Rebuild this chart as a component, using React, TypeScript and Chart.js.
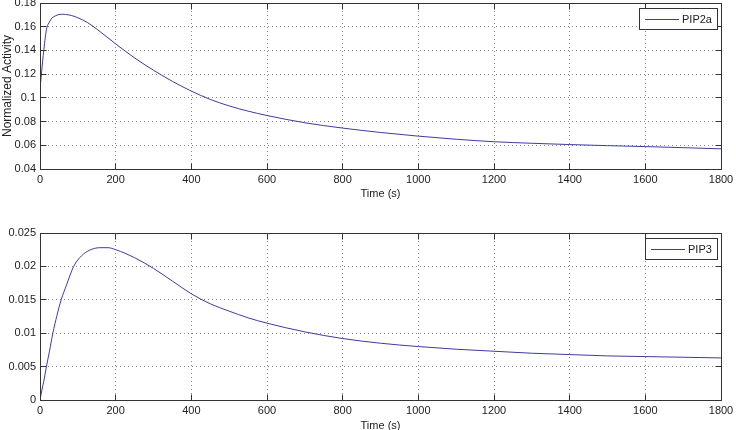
import React, { useEffect, useRef } from "react";
import { Chart, registerables } from "chart.js";

Chart.register(...registerables);

// ---- data ----
const timeTop = [0, 2, 4, 7, 10, 14, 18, 25, 32, 40, 50, 60, 75, 90, 100, 125, 150, 175, 200, 250, 300, 350, 400, 450, 500, 550, 600, 700, 800, 900, 1000, 1100, 1200, 1300, 1400, 1500, 1600, 1700, 1800];
const pip2a = [0.108, 0.114, 0.121, 0.131, 0.140, 0.151, 0.159, 0.164, 0.1675, 0.169, 0.1703, 0.1705, 0.1700, 0.1688, 0.1676, 0.1636, 0.1580, 0.1518, 0.1455, 0.1337, 0.1233, 0.1139, 0.1057, 0.0987, 0.0932, 0.0888, 0.0851, 0.0790, 0.0745, 0.0708, 0.0677, 0.0651, 0.0630, 0.0617, 0.0606, 0.0597, 0.0589, 0.0580, 0.0570];

const timeBottom = [0, 5, 10, 17, 25, 34, 45, 56, 70, 89, 110, 130, 158, 180, 200, 250, 300, 350, 400, 450, 500, 550, 600, 700, 800, 900, 1000, 1100, 1200, 1300, 1400, 1500, 1600, 1700, 1800];
const pip3 = [0, 0.0015, 0.0028, 0.005, 0.0073, 0.010, 0.0127, 0.015, 0.0172, 0.020, 0.0216, 0.0224, 0.0228, 0.0228, 0.0225, 0.0213, 0.0197, 0.0178, 0.0159, 0.0144, 0.0133, 0.0123, 0.0115, 0.0102, 0.0092, 0.0085, 0.0080, 0.0076, 0.0073, 0.0070, 0.0068, 0.0066, 0.0065, 0.0064, 0.0063];

const xTicks = [0, 200, 400, 600, 800, 1000, 1200, 1400, 1600, 1800];
const yTicksTop = [0.04, 0.06, 0.08, 0.1, 0.12, 0.14, 0.16, 0.18];
const yTicksBottom = [0, 0.005, 0.01, 0.015, 0.02, 0.025];

const xTitle = "Time (s)";
const yTitleTop = "Normalized Activity";
const labelTop = "PIP2a";
const labelBottom = "PIP3";

// ---- styles ----
const FONT = '"Liberation Sans", Arial, Helvetica, sans-serif';
const LINE = "#3c3c9c";
const FRAME = "#333333";
const TEXT = "#222222";
const GRID = "#8a8a8a";

const al = (p: number) => Math.round(p - 0.5) + 0.5;

const framePlugin = {
  id: "matlabFrame",
  afterDraw(chart: any) {
    const { ctx, chartArea } = chart;
    const { left, top, right, bottom } = chartArea;
    const xs = chart.scales.x;
    const ys = chart.scales.y;
    const L = al(left), R = al(right), T = al(top), B = al(bottom);
    ctx.save();
    ctx.strokeStyle = FRAME;
    ctx.lineWidth = 1;
    ctx.setLineDash([]);
    const tl = 6;
    ctx.beginPath();
    xs.ticks.forEach((t: any) => {
      const px = al(xs.getPixelForValue(t.value));
      ctx.moveTo(px, B);
      ctx.lineTo(px, B - tl);
      ctx.moveTo(px, T);
      ctx.lineTo(px, T + tl);
    });
    ys.ticks.forEach((t: any) => {
      const py = al(ys.getPixelForValue(t.value));
      ctx.moveTo(L, py);
      ctx.lineTo(L + tl, py);
      ctx.moveTo(R, py);
      ctx.lineTo(R - tl, py);
    });
    ctx.stroke();
    ctx.strokeRect(L, T, R - L, B - T);

    // legend box
    const label = chart.data.datasets[0].label;
    ctx.font = "11px " + FONT;
    const tw = ctx.measureText(label).width;
    const bw = Math.round(tw + 48);
    const bh = 21;
    const bx = Math.round(right - 4 - bw);
    const by = Math.round(top + 5);
    ctx.fillStyle = "#ffffff";
    ctx.fillRect(bx, by, bw, bh);
    ctx.strokeStyle = FRAME;
    ctx.strokeRect(bx + 0.5, by + 0.5, bw, bh);
    ctx.strokeStyle = chart.data.datasets[0].borderColor;
    ctx.beginPath();
    ctx.moveTo(bx + 6, by + 11.5);
    ctx.lineTo(bx + 40, by + 11.5);
    ctx.stroke();
    ctx.fillStyle = TEXT;
    ctx.textBaseline = "middle";
    ctx.textAlign = "left";
    ctx.fillText(label, bx + 43, by + 11.5);
    ctx.restore();
  },
};

function makeConfig(
  xs: number[],
  ys: number[],
  label: string,
  yTicks: number[],
  yTitle: string | null,
  padTop: number,
  xAxisHeight: number,
  xTitlePadBottom: number
): any {
  return {
    type: "line",
    data: {
      datasets: [
        {
          label,
          data: xs.map((x, i) => ({ x, y: ys[i] })),
          borderColor: LINE,
          borderWidth: 1,
          pointRadius: 0,
          fill: false,
          cubicInterpolationMode: "monotone",
        },
      ],
    },
    options: {
      animation: false,
      responsive: false,
      devicePixelRatio: 1,
      layout: { padding: { left: 0, right: 15, top: padTop, bottom: 0 } },
      plugins: { legend: { display: false }, tooltip: { enabled: false } },
      scales: {
        x: {
          type: "linear",
          min: xTicks[0],
          max: xTicks[xTicks.length - 1],
          afterBuildTicks: (s: any) => {
            s.ticks = xTicks.map((v) => ({ value: v }));
          },
          afterFit: (s: any) => {
            s.height = xAxisHeight;
            s.paddingLeft = 0;
            s.paddingRight = 0;
          },
          ticks: {
            autoSkip: false,
            maxRotation: 0,
            padding: 4,
            color: TEXT,
            font: { family: FONT, size: 11 },
            callback: (v: any) => String(v),
          },
          grid: { color: GRID, lineWidth: 1, drawTicks: false },
          border: { display: false, dash: [1, 3] },
          title: {
            display: true,
            text: xTitle,
            color: TEXT,
            font: { family: FONT, size: 11 },
            padding: { top: 0, bottom: xTitlePadBottom },
          },
        },
        y: {
          type: "linear",
          min: yTicks[0],
          max: yTicks[yTicks.length - 1],
          afterBuildTicks: (s: any) => {
            s.ticks = yTicks.map((v) => ({ value: v }));
          },
          afterFit: (s: any) => {
            s.width = 40;
            s.paddingTop = 0;
            s.paddingBottom = 0;
          },
          ticks: {
            autoSkip: false,
            padding: 4,
            color: TEXT,
            font: { family: FONT, size: 11 },
            callback: (v: any) => String(v),
          },
          grid: { color: GRID, lineWidth: 1, drawTicks: false },
          border: { display: false, dash: [1, 3] },
          title: {
            display: !!yTitle,
            text: yTitle || "",
            color: TEXT,
            font: { family: FONT, size: 12 },
            padding: { top: 0, bottom: 0 },
          },
        },
      },
    },
    plugins: [framePlugin],
  };
}

export default function App() {
  const topRef = useRef<HTMLCanvasElement>(null);
  const bottomRef = useRef<HTMLCanvasElement>(null);

  useEffect(() => {
    document.body.style.margin = "0";
    document.body.style.overflow = "hidden";
    const c1 = new Chart(
      topRef.current as HTMLCanvasElement,
      makeConfig(timeTop, pip2a, labelTop, yTicksTop, yTitleTop, 3, 46, 14.4)
    );
    const c2 = new Chart(
      bottomRef.current as HTMLCanvasElement,
      makeConfig(timeBottom, pip3, labelBottom, yTicksBottom, null, 18, 40, 7.4)
    );
    return () => {
      c1.destroy();
      c2.destroy();
    };
  }, []);

  return (
    <div style={{ position: "relative", width: 736, height: 430, overflow: "hidden", background: "#fff" }}>
      <canvas
        ref={topRef}
        width={736}
        height={215}
        style={{ position: "absolute", left: 0, top: 0, width: 736, height: 215, display: "block" }}
      />
      <canvas
        ref={bottomRef}
        width={736}
        height={225}
        style={{ position: "absolute", left: 0, top: 215, width: 736, height: 225, display: "block" }}
      />
    </div>
  );
}
